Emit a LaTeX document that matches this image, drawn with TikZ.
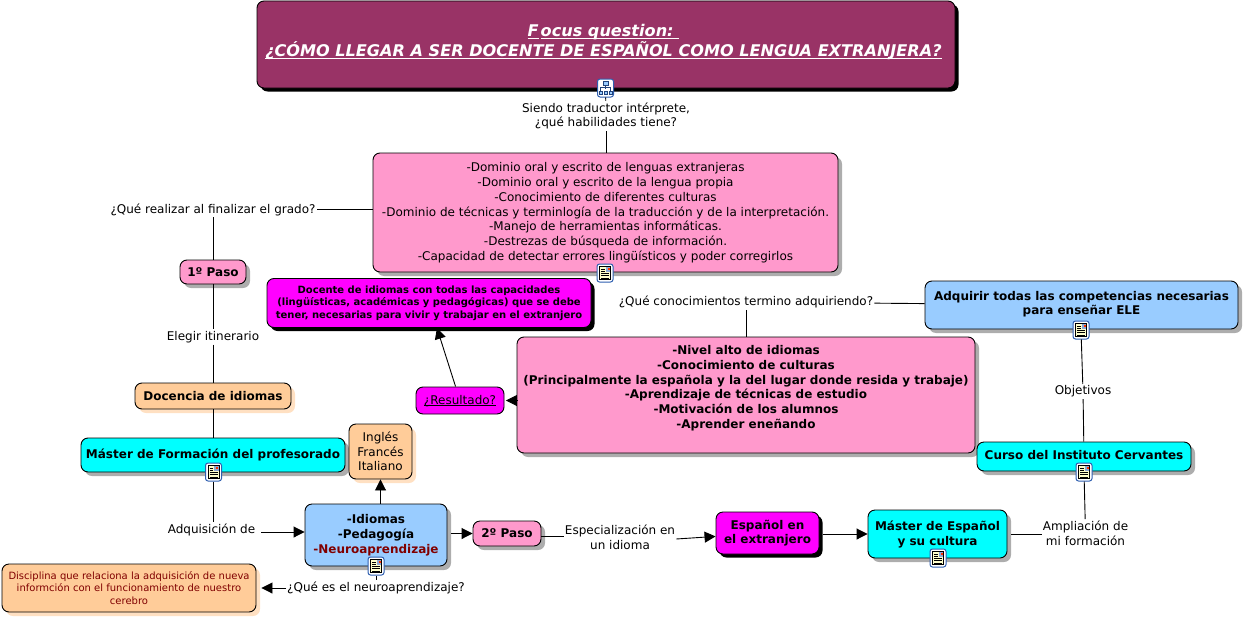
\documentclass[tikz,border=0pt]{standalone}
\usepackage{fontspec}
\setmainfont{DejaVu Sans}
\usetikzlibrary{arrows.meta,shadows}
\definecolor{titlecol}{HTML}{993366}
\definecolor{pinkcol}{HTML}{FF99CC}
\definecolor{peachcol}{HTML}{FFCC99}
\definecolor{bluecol}{HTML}{99CCFF}
\definecolor{cyancol}{HTML}{00FFFF}
\definecolor{magentacol}{HTML}{FF00FF}
\definecolor{redcol}{HTML}{800000}
\definecolor{iconblue}{HTML}{2F5FB0}
\definecolor{papercol}{HTML}{FFFFCC}
\newcommand{\sheeticon}[2]{%
    \node[iconbox] (#1) at (#2) {};
    \draw[fill=papercol,line width=.6pt] ([xshift=-5.5pt,yshift=6.5pt]#1.center) rectangle ([xshift=5.5pt,yshift=-6.5pt]#1.center);
    \fill[iconblue!55] ([xshift=.5pt,yshift=6pt]#1.center) rectangle ([xshift=5pt,yshift=1.5pt]#1.center);
    \fill[red!60!orange] ([xshift=2.5pt,yshift=5.5pt]#1.center) rectangle ([xshift=4.5pt,yshift=3.5pt]#1.center);
    \foreach \ypos in {4,2} {
        \draw[line width=.7pt] ([xshift=-4pt,yshift=\ypos pt]#1.center) -- ([xshift=-.5pt,yshift=\ypos pt]#1.center);
    }
    \foreach \ypos in {-.5,-2.7,-4.9} {
        \draw[line width=.7pt] ([xshift=-4pt,yshift=\ypos pt]#1.center) -- ([xshift=4pt,yshift=\ypos pt]#1.center);
    }
}
\newcommand{\treeicon}[2]{%
    \node[iconbox] (#1) at (#2) {};
    \draw[iconblue!70!black,line width=.8pt] ([xshift=0pt,yshift=5pt]#1.center) -- ([xshift=0pt,yshift=-1pt]#1.center);
    \draw[iconblue!70!black,line width=.8pt] ([xshift=-5pt,yshift=-3pt]#1.center) |- ([xshift=5pt,yshift=1pt]#1.center) -- ([xshift=5pt,yshift=-3pt]#1.center);
    \draw[iconblue!70!black,fill=bluecol,line width=.7pt] ([xshift=-2.5pt,yshift=6.5pt]#1.center) rectangle ([xshift=2.5pt,yshift=3pt]#1.center);
    \foreach \xpos in {-5,0,5} {
        \draw[iconblue!70!black,fill=bluecol,line width=.7pt] ([xshift=\xpos pt-1.6pt,yshift=-3pt]#1.center) rectangle ([xshift=\xpos pt+1.6pt,yshift=-6.5pt]#1.center);
    }
}
\newcommand{\ulined}[1]{\underline{\smash{#1}}}
\tikzset{
    every node/.style={font=\fontsize{12}{14.7}\selectfont,align=center,inner sep=0pt},
    boldtext/.style={font=\fontsize{12}{14.7}\selectfont\bfseries},
    concept/.style={draw=black,line width=.9pt,rounded corners=7pt,text=black},
    greyshadow/.style={drop shadow={shadow xshift=4pt,shadow yshift=-4pt,fill=black!32,opacity=1}},
    peachshadow/.style={drop shadow={shadow xshift=4pt,shadow yshift=-4pt,fill=peachcol!60,opacity=1}},
    blackshadow/.style={drop shadow={shadow xshift=3.5pt,shadow yshift=-3.5pt,fill=black,opacity=1}},
    pinkbox/.style={concept,greyshadow,fill=pinkcol},
    peachbox/.style={concept,peachshadow,fill=peachcol},
    cyanbox/.style={concept,greyshadow,fill=cyancol},
    bluebox/.style={concept,greyshadow,fill=bluecol},
    magentabox/.style={concept,blackshadow,fill=magentacol},
    phrase/.style={inner xsep=1pt,inner ysep=1.5pt},
    iconbox/.style={draw=iconblue,fill=white,line width=1pt,rounded corners=2.5pt,minimum width=16pt,minimum height=18pt},
    link/.style={draw=black,line width=.9pt},
    linkto/.style={link,-{Triangle[length=11pt,width=11pt]}}
}
\begin{document}
\begin{tikzpicture}[x=1pt,y=-1pt]
    \useasboundingbox (0,0) rectangle (1244,618);

    \node[concept,blackshadow,fill=titlecol,text=white,minimum width=698pt,minimum height=87pt,font=\fontsize{16.1}{20}\selectfont\bfseries\itshape,text height=24pt,text depth=0pt] (focus) at (606,44.5) {\ulined{F}\hspace{2pt}\ulined{ocus question:~}\hspace*{5pt}\\\ulined{¿CÓMO LLEGAR A SER DOCENTE DE ESPAÑOL COMO LENGUA EXTRANJERA?}\hspace*{5pt}};
    \node[pinkbox,minimum width=465pt,minimum height=119pt,text depth=2pt] (skills) at (605.5,212.5) {-Dominio oral y escrito de lenguas extranjeras\\-Dominio oral y escrito de la lengua propia\\-Conocimiento de diferentes culturas\\-Dominio de técnicas y terminlogía de la traducción y de la interpretación.\\-Manejo de herramientas informáticas.\\-Destrezas de búsqueda de información.\\-Capacidad de detectar errores lingüísticos y poder corregirlos};
    \node[magentabox,minimum width=324pt,minimum height=49pt,font=\fontsize{10}{12.3}\selectfont\bfseries] (docente) at (429,303) {Docente de idiomas con todas las capacidades\\(lingüísticas, académicas y pedagógicas) que se debe\\tener, necesarias para vivir y trabajar en el extranjero};
    \node[bluebox,minimum width=313pt,minimum height=48pt,boldtext,text depth=4pt] (adquirir) at (1081.5,305) {Adquirir todas las competencias necesarias\\para enseñar ELE};
    \node[pinkbox,minimum width=458pt,minimum height=116pt,boldtext,text depth=16pt] (nivel) at (746,395) {-Nivel alto de idiomas\\-Conocimiento de culturas\\(Principalmente la española y la del lugar donde resida y trabaje)\\-Aprendizaje de técnicas de estudio\\-Motivación de los alumnos\\-Aprender eneñando};
    \node[pinkbox,minimum width=66pt,minimum height=24pt,boldtext] (paso1) at (213,272) {1º Paso};
    \node[peachbox,minimum width=156pt,minimum height=26pt,boldtext] (docencia) at (213,396) {Docencia de idiomas};
    \node[cyanbox,minimum width=264pt,minimum height=34pt,boldtext,text depth=2pt] (formacion) at (213,455) {Máster de Formación del profesorado};
    \node[peachbox,minimum width=63pt,minimum height=55pt] (lenguas) at (380.5,451.5) {Inglés\\Francés\\Italiano};
    \node[concept,fill=magentacol,minimum width=88pt,minimum height=27pt,text height=7pt,text depth=0pt] (resultado) at (460,400.5) {\ulined{¿Resultado?}};
    \node[bluebox,minimum width=142pt,minimum height=62pt,boldtext,text depth=2pt] (idiomas) at (376,535) {-Idiomas\\-Pedagogía\\\textcolor{redcol}{-Neuroaprendizaje}};
    \node[peachbox,minimum width=254pt,minimum height=48pt,font=\fontsize{10}{12.3}\selectfont,text=redcol] (disciplina) at (129,588) {Disciplina que relaciona la adquisición de nueva\\informción con el funcionamiento de nuestro\\cerebro};
    \node[pinkbox,minimum width=68pt,minimum height=25pt,boldtext] (paso2) at (507,533.5) {2º Paso};
    \node[magentabox,minimum width=103pt,minimum height=42pt,boldtext] (extranjero) at (767.5,533) {Español en\\el extranjero};
    \node[cyanbox,minimum width=139pt,minimum height=48pt,boldtext,text depth=2pt] (espanol) at (937.5,534) {Máster de Español\\y su cultura};
    \node[cyanbox,minimum width=214pt,minimum height=29pt,boldtext,text depth=4pt] (cervantes) at (1084,456.5) {Curso del Instituto Cervantes};

    \treeicon{focusicon}{605.5,88}
    \sheeticon{skillsicon}{605,273}
    \sheeticon{adquiriricon}{1081,330}
    \sheeticon{cervantesicon}{1084,472}
    \sheeticon{formacionicon}{213.5,472}
    \sheeticon{idiomasicon}{376,566}
    \sheeticon{espanolicon}{938,558}

    \node[phrase] (habilidades) at (606,116) {Siendo traductor intérprete,\\¿qué habilidades tiene?};
    \node[phrase] (grado) at (213,209.5) {¿Qué realizar al finalizar el grado?};
    \node[phrase] (itinerario) at (213,337) {Elegir itinerario};
    \node[phrase] (conocimientos) at (746,302) {¿Qué conocimientos termino adquiriendo?};
    \node[phrase] (objetivos) at (1083,391.5) {Objetivos};
    \node[phrase] (adquisicion) at (211.5,529.5) {Adquisición de};
    \node[phrase] (neuro) at (376,588) {¿Qué es el neuroaprendizaje?};
    \node[phrase] (especializacion) at (620,537) {Especialización en\\un idioma};
    \node[phrase] (ampliacion) at (1085.5,533) {Ampliación de\\mi formación};
    \coordinate (adqstart) at (261,532);

    \draw[link] (focusicon) -- (habilidades);
    \draw[link] (habilidades) -- (habilidades |- skills.north);
    \draw[link] (skills.west |- grado) -- (grado);
    \draw[link] (grado) -- (paso1);
    \draw[link] (paso1) -- (itinerario);
    \draw[link] (itinerario) -- (docencia);
    \draw[link] (docencia) -- (formacion);
    \draw[link] (formacionicon) -- (formacionicon |- adquisicion.north);
    \draw[linkto] (adqstart) -- (adqstart -| idiomas.west);
    \draw[linkto] (idiomas.north -| lenguas) -- (lenguas);
    \draw[linkto] ([xshift=4pt]idiomas.east |- paso2) -- (paso2);
    \draw[link] (idiomasicon) -- (neuro);
    \draw[linkto,shorten >=5pt] (neuro) -- (disciplina);
    \draw[link] (paso2.east |- 0,536) -- (especializacion.west |- 0,536);
    \draw[linkto] ([yshift=-2pt]especializacion.east) -- (extranjero);
    \draw[linkto] ([xshift=4pt]extranjero.east |- espanol.west) -- (espanol.west);
    \draw[link] ([xshift=4pt]espanol.east) -- (ampliacion.west |- espanol.east);
    \draw[link] (ampliacion) -- (cervantesicon);
    \draw[link] (cervantes) -- (objetivos);
    \draw[link] (objetivos) -- (adquiriricon);
    \draw[link] (adquirir) -- (conocimientos);
    \draw[link] (conocimientos) -- (nivel);
    \draw[linkto,shorten >=1.5pt] (nivel.west |- resultado) -- (resultado);
    \draw[linkto] (resultado) -- (docente);
\end{tikzpicture}
\end{document}
